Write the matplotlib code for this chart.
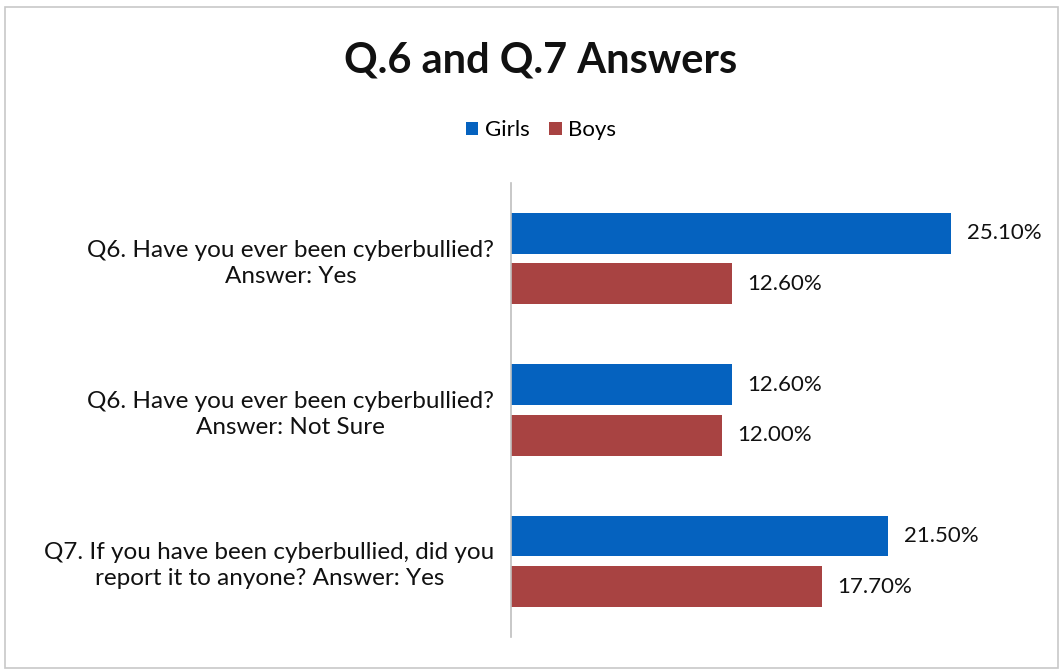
import matplotlib
matplotlib.use("Agg")
import matplotlib.pyplot as plt
import numpy as np
from matplotlib.patches import Rectangle

categories = [
    "Q6. Have you ever been cyberbullied?\nAnswer: Yes",
    "Q6. Have you ever been cyberbullied?\nAnswer: Not Sure",
    "Q7. If you have been cyberbullied, did you\nreport it to anyone? Answer: Yes",
]
girls = [25.1, 12.6, 21.5]
boys = [12.6, 12.0, 17.7]
series_names = ["Girls", "Boys"]
colors = ["#0562BF", "#A84342"]

plt.rcParams['font.family'] = ['Lato', 'DejaVu Sans']

fig = plt.figure(figsize=(10.63, 6.71), dpi=100)
ax = fig.add_axes([0.4807, 0.0507, 0.4953, 0.6766])

y = np.arange(len(categories))
h = 0.27
off = 0.167
b1 = ax.barh(y - off, girls, height=h, color=colors[0], label=series_names[0])
b2 = ax.barh(y + off, boys, height=h, color=colors[1], label=series_names[1])

for bars, vals in ((b1, girls), (b2, boys)):
    for rect, v in zip(bars, vals):
        ax.annotate(f"{v:.2f}%", (rect.get_width(), rect.get_y() + rect.get_height() / 2),
                    xytext=(11, 0), textcoords="offset points", ha="left", va="center",
                    fontsize=16, color="#111111")

ax.set_xlim(0, 30)
ax.set_ylim(len(categories) - 0.5, -0.5)
ax.set_yticks(y)
ax.set_yticklabels(categories, fontsize=17.5, multialignment="center", linespacing=1.3,
                   color="#111111")
ax.tick_params(axis="y", length=0, pad=12)
ax.set_xticks([])
for s in ["top", "right", "bottom"]:
    ax.spines[s].set_visible(False)
ax.spines["left"].set_color("#BFBFBF")
ax.spines["left"].set_linewidth(1.2)

fig.text(0.509, 0.91, "Q.6 and Q.7 Answers", ha="center", va="center",
         fontsize=30, fontweight="bold", color="#111111")

fig.legend(handles=[b1, b2], labels=series_names, loc="center", bbox_to_anchor=(0.509, 0.806),
           ncol=2, frameon=False, fontsize=16, handlelength=0.55, handleheight=0.55,
           handletextpad=0.3, columnspacing=0.9)

fig.patches.append(Rectangle((0.005, 0.005), 0.99, 0.985, transform=fig.transFigure,
                             fill=False, edgecolor="#C8C8C8", linewidth=1.2))

fig.savefig("out.png", dpi=100)
